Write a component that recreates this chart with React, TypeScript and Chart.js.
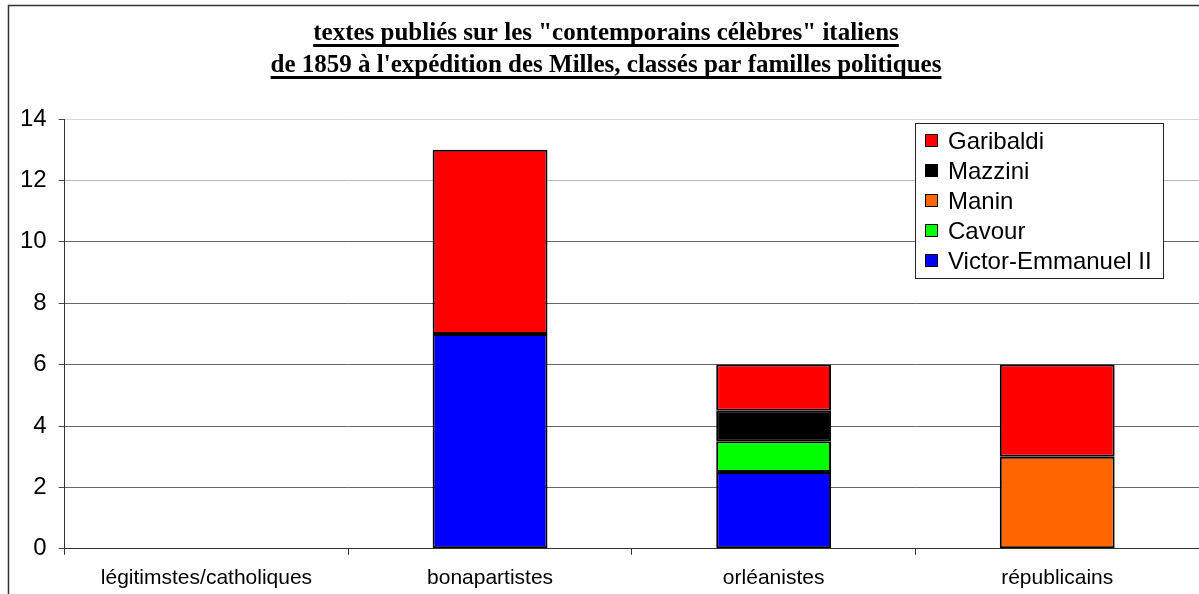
import React, { useEffect, useRef } from "react";
import { Chart, registerables } from "chart.js";

Chart.register(...registerables);

const categories = ["légitimstes/catholiques", "bonapartistes", "orléanistes", "républicains"];
// stacking order bottom -> top
const victorEmmanuel = [0, 7, 2.5, 0];
const cavour = [0, 0, 1, 0];
const manin = [0, 0, 0, 3];
const mazzini = [0, 0, 1, 0];
const garibaldi = [0, 6, 1.5, 3];
const seriesNames = ["Victor-Emmanuel II", "Cavour", "Manin", "Mazzini", "Garibaldi"];
const seriesColors = ["#0000FF", "#00FF00", "#FF6600", "#000000", "#FF0000"];
const titleLines = [
  "textes publiés sur les \"contemporains célèbres\" italiens",
  "de 1859 à l'expédition des Milles, classés par familles politiques",
];
const yMin = 0;
const yMax = 14;
const yStep = 2;

const decorPlugin = {
  id: "decor",
  afterDraw(chart: any) {
    const ctx = chart.ctx as CanvasRenderingContext2D;
    ctx.save();
    // outer frame (top and left edges visible)
    ctx.strokeStyle = "#333";
    ctx.lineWidth = 1.5;
    ctx.beginPath();
    ctx.moveTo(8.5, chart.height);
    ctx.lineTo(8.5, 5.5);
    ctx.lineTo(chart.width, 5.5);
    ctx.stroke();

    // title with underline
    ctx.fillStyle = "#000";
    ctx.font = "bold 25px 'Liberation Serif', 'Times New Roman', serif";
    ctx.textAlign = "center";
    ctx.textBaseline = "alphabetic";
    const cx = 606;
    const baselines = [40, 72];
    titleLines.forEach((line, i) => {
      ctx.fillText(line, cx, baselines[i]);
      const w = ctx.measureText(line).width;
      ctx.fillRect(cx - w / 2, baselines[i] + 4, w, 3);
    });

    // legend box
    const bx = 915.5, by = 123.5, bw = 248, bh = 155;
    ctx.fillStyle = "#fff";
    ctx.fillRect(bx, by, bw, bh);
    ctx.strokeStyle = "#222";
    ctx.lineWidth = 1;
    ctx.strokeRect(bx, by, bw, bh);
    const ds = chart.data.datasets.slice().reverse();
    ctx.font = "24px 'Liberation Sans', Arial, sans-serif";
    ctx.textAlign = "left";
    ctx.textBaseline = "middle";
    ds.forEach((d: any, i: number) => {
      const y = 141 + i * 30;
      ctx.fillStyle = d.backgroundColor;
      ctx.fillRect(925.5, y - 6.5, 12, 12);
      ctx.strokeStyle = "#000";
      ctx.strokeRect(925.5, y - 6.5, 12, 12);
      ctx.fillStyle = "#000";
      ctx.fillText(d.label, 948, y + 1);
    });
    ctx.restore();
  },
};

export default function App() {
  const ref = useRef<HTMLCanvasElement | null>(null);

  useEffect(() => {
    document.body.style.margin = "0";
    document.body.style.overflow = "hidden";
    const values = [victorEmmanuel, cavour, manin, mazzini, garibaldi];
    const chart = new Chart(ref.current as HTMLCanvasElement, {
      type: "bar",
      data: {
        labels: categories,
        datasets: values.map((v, i) => ({
          label: seriesNames[i],
          data: v,
          backgroundColor: seriesColors[i],
          borderColor: "#000",
          borderWidth: 2,
          borderSkipped: false,
          categoryPercentage: 1,
          barPercentage: 0.405,
        })),
      },
      options: {
        animation: false,
        responsive: true,
        maintainAspectRatio: false,
        layout: { padding: { top: 119, left: 8, right: 0, bottom: 0 } },
        plugins: {
          legend: { display: false },
          title: { display: false },
          tooltip: { enabled: false },
        },
        scales: {
          x: {
            stacked: true,
            offset: true,
            grid: {
              offset: true,
              drawOnChartArea: false,
              drawTicks: true,
              tickLength: 6,
              color: "#333",
            },
            border: { color: "#333", width: 1 },
            ticks: {
              color: "#000",
              padding: 11,
              font: { family: "'Liberation Sans', Arial, sans-serif", size: 21 },
              maxRotation: 0,
              autoSkip: false,
            },
          },
          y: {
            stacked: true,
            min: yMin,
            max: yMax,
            ticks: {
              stepSize: yStep,
              color: "#000",
              padding: 12,
              font: { family: "'Liberation Sans', Arial, sans-serif", size: 24 },
            },
            grid: {
              tickLength: 6,
              tickColor: "#444",
              color: (c: any) =>
                c.tick && c.tick.value === 14 ? "#d8d8d8" : c.tick && c.tick.value === 12 ? "#b8b8b8" : "#666",
            },
            border: { color: "#333", width: 1 },
          },
        },
      },
      plugins: [decorPlugin],
    });
    return () => chart.destroy();
  }, []);

  return (
    <div style={{ position: "relative", width: "1199px", height: "602px" }}>
      <canvas ref={ref} />
    </div>
  );
}
